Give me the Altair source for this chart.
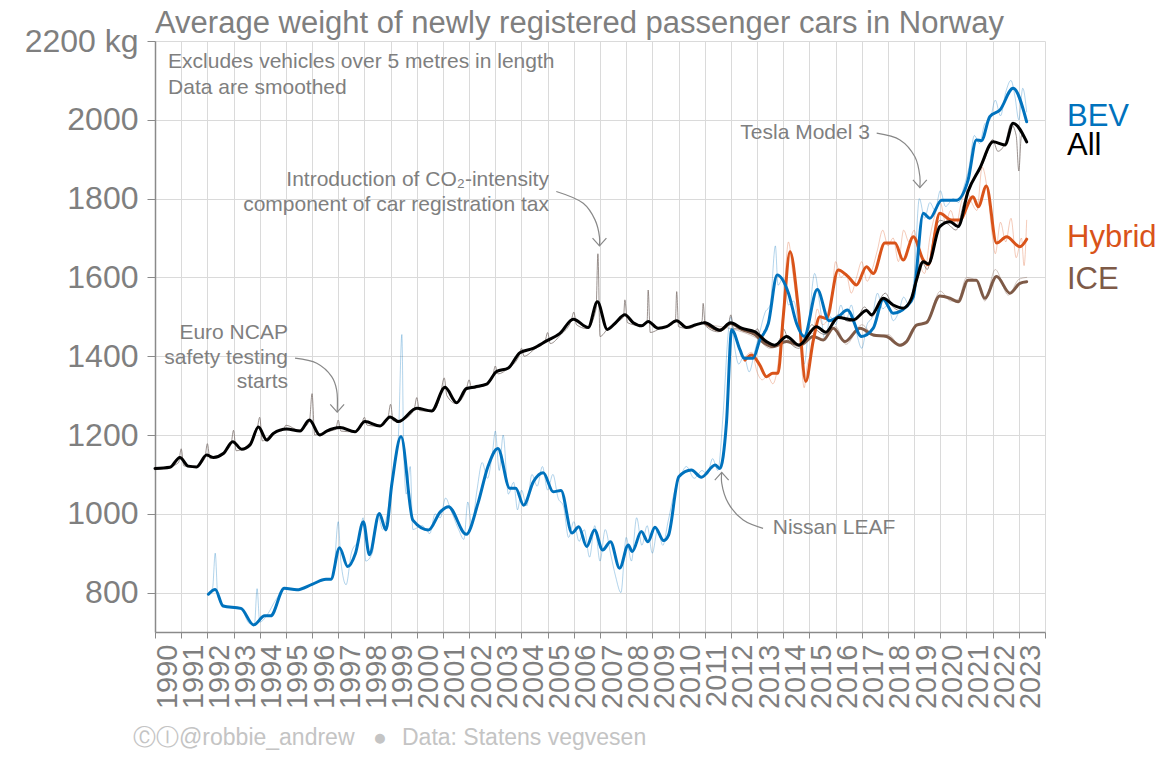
import altair as alt
import pandas as pd

# ---------------- smoothed series (year, kg) ----------------
all_years = [1990.0, 1990.57, 1990.95, 1991.27, 1991.59, 1991.97, 1992.23, 1992.61, 1992.97, 1993.31,
             1993.63, 1993.95, 1994.27, 1994.52, 1995.03, 1995.54, 1995.9, 1996.3, 1996.56, 1997.07,
             1997.64, 1998.02, 1998.6, 1998.98, 1999.3, 2000.0, 2000.57, 2001.08, 2001.52, 2001.9,
             2002.22, 2002.67, 2003.05, 2003.5, 2003.94, 2004.45, 2004.96, 2005.47, 2005.98, 2006.55,
             2006.9, 2007.28, 2007.57, 2007.95, 2008.27, 2008.59, 2008.84, 2009.22, 2009.54, 2009.93,
             2010.31, 2010.63, 2011.0, 2011.58, 2011.99, 2012.41, 2012.92, 2013.36, 2013.68, 2014.13,
             2014.6, 2015.27, 2015.62, 2016.1, 2016.67, 2017.18, 2017.37, 2017.82, 2018.2, 2018.58,
             2018.9, 2019.09, 2019.35, 2019.54, 2019.98, 2020.37, 2020.68, 2021.06, 2021.51, 2022.02,
             2022.47, 2022.78, 2023.3]
all_kg = [1115, 1118, 1143, 1121, 1119, 1149, 1143, 1153, 1183, 1164,
          1175, 1220, 1187, 1204, 1215, 1210, 1238, 1200, 1210, 1219,
          1208, 1234, 1223, 1246, 1234, 1268, 1261, 1321, 1282, 1318,
          1322, 1329, 1361, 1370, 1409, 1420, 1439, 1458, 1494, 1473,
          1538, 1468, 1483, 1505, 1485, 1477, 1488, 1471, 1475, 1490,
          1473, 1479, 1485, 1466, 1485, 1471, 1462, 1437, 1428, 1450,
          1428, 1475, 1461, 1498, 1492, 1516, 1505, 1547, 1530, 1522,
          1547, 1593, 1640, 1634, 1729, 1741, 1729, 1818, 1877, 1944,
          1936, 1991, 1944]

bev_years = [1992.04, 1992.3, 1992.6, 1993.28, 1993.77, 1994.19, 1994.42, 1994.94, 1995.42, 1996.0,
             1996.53, 1996.72, 1997.05, 1997.36, 1997.66, 1997.96, 1998.19, 1998.57, 1998.82, 1999.05,
             1999.4, 1999.85, 2000.45, 2000.9, 2001.21, 2001.89, 2002.34, 2002.72, 2003.1, 2003.55,
             2003.78, 2004.08, 2004.46, 2004.83, 2005.21, 2005.51, 2005.93, 2006.19, 2006.49, 2006.79,
             2007.1, 2007.4, 2007.75, 2008.08, 2008.23, 2008.58, 2008.83, 2009.1, 2009.43, 2009.62,
             2010.01, 2010.49, 2010.87, 2011.4, 2011.58, 2011.83, 2012.03, 2012.35, 2012.5, 2012.85,
             2013.1, 2013.43, 2013.77, 2014.2, 2014.51, 2014.8, 2015.3, 2015.75, 2016.1, 2016.45,
             2016.99, 2017.44, 2017.82, 2018.2, 2018.71, 2018.97, 2019.35, 2019.6, 2020.05, 2020.62,
             2021.06, 2021.38, 2021.57, 2021.89, 2022.28, 2022.78, 2023.3]
bev_kg = [796, 808, 766, 760, 718, 741, 741, 811, 807, 821,
          834, 834, 914, 866, 900, 980, 896, 1001, 959, 1077,
          1196, 984, 959, 1005, 1018, 948, 1027, 1120, 1166, 1065,
          1065, 1022, 1082, 1104, 1056, 1059, 951, 967, 917, 959,
          908, 929, 862, 921, 904, 955, 929, 966, 932, 946,
          1094, 1111, 1093, 1124, 1115, 1230, 1467, 1416, 1395, 1395,
          1440, 1483, 1606, 1560, 1483, 1450, 1569, 1490, 1500, 1517,
          1450, 1471, 1544, 1509, 1526, 1551, 1763, 1750, 1796, 1796,
          1847, 1949, 1947, 2008, 2025, 2080, 1995]

hyb_years = [2012.54, 2012.79, 2013.1, 2013.36, 2013.6, 2013.8, 2014.0, 2014.26, 2014.57, 2014.86,
             2015.15, 2015.4, 2015.65, 2016.1, 2016.48, 2016.8, 2017.18, 2017.44, 2017.88, 2018.27,
             2018.58, 2018.97, 2019.35, 2019.54, 2019.98, 2020.42, 2020.74, 2021.25, 2021.45, 2021.76,
             2022.15, 2022.53, 2023.04, 2023.3]
hyb_kg = [1390, 1403, 1378, 1348, 1357, 1357, 1500, 1665, 1526, 1336,
          1441, 1500, 1496, 1619, 1602, 1581, 1627, 1610, 1687, 1687,
          1644, 1703, 1644, 1632, 1763, 1746, 1746, 1805, 1779, 1832,
          1687, 1703, 1678, 1697]

ice_years = [2011.0, 2011.58, 2011.99, 2012.41, 2012.92, 2013.3, 2013.6, 2014.13, 2014.64, 2015.15,
             2015.53, 2015.91, 2016.36, 2016.93, 2017.44, 2017.95, 2018.46, 2018.71, 2019.09, 2019.47,
             2019.98, 2020.37, 2020.68, 2021.06, 2021.38, 2021.7, 2022.15, 2022.66, 2023.04, 2023.3]
ice_kg = [1485, 1466, 1483, 1468, 1455, 1432, 1424, 1437, 1428, 1450,
          1441, 1471, 1437, 1471, 1454, 1450, 1428, 1437, 1479, 1485,
          1553, 1547, 1538, 1593, 1593, 1547, 1602, 1560, 1585, 1589]

# ---------------- raw (unsmoothed) series, read approximately ----------------
raw_all_years = [1990.0, 1990.5, 1990.9, 1991.0, 1991.1, 1991.5, 1991.9, 1992.0, 1992.1, 1992.5,
                 1992.9, 1993.0, 1993.1, 1993.5, 1993.9, 1994.0, 1994.1, 1994.5, 1994.9, 1995.0,
                 1995.5, 1995.9, 1996.0, 1996.1, 1996.5, 1996.9, 1997.0, 1997.1, 1997.6, 1997.9,
                 1998.0, 1998.1, 1998.6, 1998.9, 1999.0, 1999.1, 1999.5, 1999.9, 2000.0, 2000.1,
                 2000.6, 2000.9, 2001.05, 2001.15, 2001.5, 2001.9, 2002.0, 2002.1, 2002.6, 2002.9,
                 2003.0, 2003.1, 2003.5, 2003.9, 2004.0, 2004.1, 2004.5, 2004.9, 2005.0, 2005.1,
                 2005.5, 2005.9, 2006.0, 2006.1, 2006.5, 2006.85, 2006.92, 2007.0, 2007.3, 2007.6,
                 2007.9, 2007.95, 2008.05, 2008.5, 2008.8, 2008.84, 2008.92, 2009.3, 2009.6, 2009.88,
                 2009.93, 2010.0, 2010.4, 2010.7, 2010.9, 2010.94, 2011.02, 2011.5, 2011.9, 2012.0,
                 2012.1, 2012.5, 2012.9, 2013.0, 2013.2, 2013.6, 2013.9, 2014.0, 2014.2, 2014.6,
                 2014.9, 2015.1, 2015.3, 2015.6, 2015.9, 2016.1, 2016.5, 2016.9, 2017.1, 2017.4,
                 2017.7, 2017.9, 2018.2, 2018.5, 2018.9, 2019.1, 2019.3, 2019.5, 2019.8, 2020.0,
                 2020.3, 2020.6, 2020.9, 2021.1, 2021.4, 2021.7, 2022.0, 2022.2, 2022.5, 2022.7,
                 2022.9, 2023.0, 2023.1, 2023.3]
raw_all_kg = [1112, 1118, 1130, 1165, 1122, 1118, 1140, 1178, 1140, 1150,
              1175, 1212, 1160, 1172, 1215, 1245, 1185, 1205, 1212, 1225,
              1212, 1235, 1305, 1200, 1208, 1214, 1238, 1210, 1208, 1230,
              1245, 1225, 1222, 1245, 1278, 1236, 1240, 1265, 1295, 1262,
              1260, 1300, 1345, 1300, 1280, 1318, 1340, 1318, 1328, 1350,
              1375, 1355, 1370, 1400, 1420, 1400, 1418, 1438, 1460, 1432,
              1455, 1490, 1512, 1480, 1470, 1520, 1660, 1450, 1470, 1485,
              1500, 1543, 1485, 1478, 1488, 1568, 1460, 1470, 1475, 1490,
              1564, 1475, 1470, 1480, 1490, 1534, 1478, 1462, 1480, 1505,
              1470, 1468, 1458, 1470, 1440, 1425, 1448, 1470, 1440, 1420,
              1460, 1480, 1465, 1455, 1490, 1505, 1488, 1505, 1525, 1500,
              1545, 1560, 1525, 1515, 1550, 1610, 1640, 1620, 1720, 1745,
              1735, 1720, 1790, 1830, 1860, 1900, 1950, 1920, 1945, 1990,
              1960, 1870, 1960, 1950]

raw_bev_years = [1992.0, 1992.2, 1992.3, 1992.4, 1992.6, 1993.0, 1993.3, 1993.6, 1993.8, 1993.9,
                 1994.0, 1994.3, 1994.6, 1995.0, 1995.5, 1996.0, 1996.5, 1996.8, 1997.0, 1997.1,
                 1997.3, 1997.5, 1997.8, 1997.95, 1998.05, 1998.3, 1998.5, 1998.7, 1998.9, 1999.1,
                 1999.3, 1999.43, 1999.5, 1999.6, 1999.75, 1999.85, 2000.2, 2000.5, 2000.7, 2000.9,
                 2001.1, 2001.3, 2001.6, 2001.8, 2001.95, 2002.1, 2002.3, 2002.5, 2002.7, 2002.9,
                 2003.0, 2003.15, 2003.3, 2003.5, 2003.7, 2003.85, 2004.0, 2004.2, 2004.4, 2004.6,
                 2004.8, 2005.0, 2005.2, 2005.4, 2005.6, 2005.8, 2006.0, 2006.2, 2006.4, 2006.6,
                 2006.8, 2007.0, 2007.2, 2007.4, 2007.6, 2007.8, 2008.0, 2008.2, 2008.4, 2008.6,
                 2008.8, 2009.0, 2009.2, 2009.4, 2009.6, 2009.9, 2010.1, 2010.3, 2010.6, 2010.9,
                 2011.1, 2011.3, 2011.5, 2011.7, 2011.9, 2012.0, 2012.15, 2012.3, 2012.5, 2012.7,
                 2012.9, 2013.1, 2013.3, 2013.5, 2013.7, 2013.8, 2014.0, 2014.2, 2014.4, 2014.6,
                 2014.8, 2015.0, 2015.2, 2015.4, 2015.6, 2015.8, 2016.0, 2016.2, 2016.4, 2016.6,
                 2016.8, 2017.0, 2017.2, 2017.4, 2017.6, 2017.8, 2018.0, 2018.2, 2018.4, 2018.6,
                 2018.8, 2019.0, 2019.2, 2019.4, 2019.6, 2019.8, 2020.0, 2020.2, 2020.5, 2020.7,
                 2020.9, 2021.1, 2021.3, 2021.5, 2021.7, 2021.9, 2022.1, 2022.3, 2022.5, 2022.7,
                 2022.85, 2023.0, 2023.15, 2023.3]
raw_bev_kg = [795, 812, 900, 790, 770, 760, 758, 722, 720, 810,
              725, 745, 780, 810, 808, 820, 832, 835, 980, 880,
              820, 900, 940, 990, 880, 900, 1000, 960, 1010, 1100,
              1200, 1455, 1160, 1050, 1120, 960, 970, 950, 1000, 990,
              1040, 1010, 960, 935, 1030, 970, 1060, 1130, 1090, 1160,
              1210, 1110, 1200, 1050, 1080, 1010, 1060, 1020, 1100, 1070,
              1120, 1060, 1100, 1040, 1020, 940, 980, 930, 960, 890,
              970, 880, 960, 900, 840, 800, 940, 880, 990, 920,
              970, 900, 960, 920, 980, 1070, 1100, 1120, 1090, 1110,
              1100, 1140, 1110, 1250, 1460, 1500, 1420, 1380, 1400, 1360,
              1410, 1460, 1510, 1530, 1680, 1580, 1600, 1530, 1540, 1470,
              1380, 1500, 1610, 1530, 1440, 1500, 1480, 1530, 1490, 1530,
              1460, 1420, 1480, 1500, 1560, 1520, 1530, 1490, 1510, 1550,
              1530, 1600, 1800, 1750, 1790, 1770, 1820, 1780, 1800, 1790,
              1830, 1880, 1960, 1940, 1990, 2000, 2050, 2010, 2070, 2100,
              2060, 2000, 2080, 2020]

raw_hyb_years = [2012.5, 2012.8, 2013.0, 2013.2, 2013.4, 2013.6, 2013.8, 2014.0, 2014.2, 2014.35,
                 2014.6, 2014.8, 2014.9, 2015.1, 2015.3, 2015.5, 2015.8, 2016.0, 2016.2, 2016.4,
                 2016.6, 2016.8, 2017.0, 2017.2, 2017.4, 2017.6, 2017.8, 2018.0, 2018.2, 2018.4,
                 2018.6, 2018.8, 2019.0, 2019.2, 2019.4, 2019.6, 2019.8, 2020.0, 2020.2, 2020.4,
                 2020.6, 2020.8, 2021.0, 2021.2, 2021.4, 2021.6, 2021.8, 2022.0, 2022.1, 2022.3,
                 2022.5, 2022.7, 2022.9, 2023.1, 2023.2, 2023.3]
raw_hyb_kg = [1395, 1410, 1360, 1340, 1350, 1330, 1380, 1520, 1690, 1620,
              1480, 1320, 1370, 1420, 1520, 1480, 1510, 1640, 1600, 1610,
              1560, 1600, 1640, 1590, 1620, 1670, 1720, 1680, 1700, 1640,
              1720, 1690, 1720, 1640, 1610, 1700, 1760, 1790, 1740, 1770,
              1730, 1790, 1820, 1790, 1770, 1880, 1820, 1700, 1660, 1740,
              1690, 1750, 1650, 1700, 1630, 1745]

raw_ice_years = [2011.0, 2012.0, 2012.5, 2013.0, 2013.5, 2014.0, 2014.5, 2015.0, 2015.5, 2016.0,
                 2016.4, 2017.0, 2017.5, 2018.0, 2018.5, 2019.0, 2019.5, 2020.0, 2020.4, 2020.7,
                 2021.0, 2021.4, 2021.7, 2022.1, 2022.6, 2023.0, 2023.3]
raw_ice_kg = [1480, 1470, 1460, 1445, 1420, 1440, 1425, 1460, 1440, 1475,
              1430, 1480, 1450, 1455, 1425, 1475, 1490, 1565, 1540, 1545,
              1600, 1590, 1540, 1620, 1555, 1595, 1600]

# ---------------- texts ----------------
title_text = "Average weight of newly registered passenger cars in Norway"
series_names = ["BEV", "All", "Hybrid", "ICE"]
series_label_kg = [2007, 1934, 1700, 1593]
year_ticks = list(range(1990, 2025))
kg_ticks = [800, 1000, 1200, 1400, 1600, 1800, 2000, 2200]

note_lines = ["Excludes vehicles over 5 metres in length", "Data are smoothed"]
co2_lines = ["Introduction of CO\u2082-intensity", "component of car registration tax"]
ncap_lines = ["Euro NCAP", "safety testing", "starts"]
tesla_text = "Tesla Model 3"
leaf_text = "Nissan LEAF"
footer_handle = "\u24b8\u24be@robbie_andrew"
footer_dot = "\u25cf"
footer_source = "Data: Statens vegvesen"

# arrow paths (year, kg) along the curves
co2_arrow_years = [2005.33, 2006.36, 2006.81, 2006.98, 2006.98]
co2_arrow_kg = [1818, 1788, 1746, 1703, 1680]
ncap_arrow_years = [1995.35, 1996.18, 1996.75, 1996.94, 1996.96]
ncap_arrow_kg = [1395, 1382, 1348, 1314, 1258]
tesla_arrow_years = [2017.57, 2018.46, 2019.03, 2019.22, 2019.22]
tesla_arrow_kg = [1966, 1949, 1906, 1856, 1828]
leaf_arrow_years = [2013.23, 2012.47, 2011.9, 2011.65, 2011.65]
leaf_arrow_kg = [963, 984, 1027, 1078, 1105]

# ---------------- styling ----------------
GREY = "#7f7f7f"
BLUE = "#0072BD"
ORANGE = "#D95319"
BROWN = "#7E5A47"
FONT = "Liberation Sans"

xscale = alt.Scale(domain=[1990, 2024], nice=False, zero=False)
yscale = alt.Scale(domain=[700, 2200], nice=False, zero=False)

xaxis = alt.Axis(values=year_ticks, format="d",
                 labelExpr="datum.value == 2024 ? '' : datum.label",
                 labelAngle=270, labelAlign="right", labelBaseline="middle",
                 labelOffset=12, labelFontSize=29, labelPadding=6, tickSize=6,
                 labelOverlap=False, labelFlush=False, labelBound=False,
                 grid=True, title=None)
yaxis = alt.Axis(values=kg_ticks, format="d",
                 labelExpr="datum.value == 2200 ? '2200 kg' : datum.label",
                 labelFontSize=32, labelPadding=9, tickSize=8,
                 labelOverlap=False, grid=True, title=None)

X = alt.X("year:Q", scale=xscale, axis=xaxis)
Y = alt.Y("kg:Q", scale=yscale, axis=yaxis)


def df(years, vals):
    return pd.DataFrame({"year": years, "kg": vals})


def line(years, vals, color, width, opacity=1.0):
    return alt.Chart(df(years, vals)).mark_line(
        color=color, strokeWidth=width, opacity=opacity, interpolate="monotone",
        strokeJoin="round", strokeCap="round").encode(x=X, y=Y)


layers = [
    line(raw_ice_years, raw_ice_kg, BROWN, 1, 0.35),
    line(raw_hyb_years, raw_hyb_kg, ORANGE, 1, 0.3),
    line(raw_bev_years, raw_bev_kg, BLUE, 1, 0.3),
    line(raw_all_years, raw_all_kg, "#7a6e6a", 1, 0.75),
    line(ice_years, ice_kg, BROWN, 3),
    line(hyb_years, hyb_kg, ORANGE, 3),
    line(bev_years, bev_kg, BLUE, 3),
    line(all_years, all_kg, "#000000", 3),
]

# arrows
for ys, ks, up in [(co2_arrow_years, co2_arrow_kg, False),
                   (ncap_arrow_years, ncap_arrow_kg, False),
                   (tesla_arrow_years, tesla_arrow_kg, False),
                   (leaf_arrow_years, leaf_arrow_kg, True)]:
    d = df(ys, ks)
    d["o"] = range(len(d))
    layers.append(alt.Chart(d).mark_line(color="#888888", strokeWidth=1.2,
                                         interpolate="catmull-rom").encode(
        x=X, y=Y, order="o:Q"))
    tip = df([ys[-1]], [ks[-1]])
    shape = "M-0.8,0.9L0,0L0.8,0.9" if up else "M-0.8,-0.9L0,0L0.8,-0.9"
    layers.append(alt.Chart(tip).mark_point(shape=shape, filled=False, size=300,
                                            strokeWidth=1.2, color="#888888", opacity=1).encode(x=X, y=Y))


def texts(years, kgs, labels, align, size=21, color=GREY):
    d = pd.DataFrame({"year": years, "kg": kgs, "t": labels})
    return alt.Chart(d).mark_text(align=align, baseline="middle", fontSize=size,
                                  color=color, font=FONT).encode(x=X, y=Y, text="t:N")


layers += [
    texts([1990.5, 1990.5], [2147, 2081], note_lines, "left"),
    texts([2005.05, 2005.05], [1847, 1784], co2_lines, "right"),
    texts([1995.08] * 3, [1459, 1395, 1335], ncap_lines, "right"),
    texts([2017.31], [1966], [tesla_text], "right"),
    texts([2013.6], [964], [leaf_text], "left"),
]

# series labels at the right of the plot
lab = pd.DataFrame({"kg": series_label_kg, "t": series_names,
                    "c": [BLUE, "#000000", ORANGE, BROWN]})
layers.append(alt.Chart(lab).mark_text(align="left", baseline="middle", fontSize=31, font=FONT).encode(
    x=alt.value(912), y=Y, text="t:N",
    color=alt.Color("c:N", scale=None)))

# title (as text, placed just above the plot area)
layers.append(alt.Chart(pd.DataFrame({"t": [title_text]})).mark_text(
    align="left", baseline="alphabetic", fontSize=31, color=GREY, font=FONT).encode(
    x=alt.value(0), y=alt.value(-8), text="t:N"))

# footer
foot = pd.DataFrame({"t": [footer_handle, footer_dot, footer_source], "px": [-22, 218, 247]})
layers.append(alt.Chart(foot).mark_text(align="left", baseline="alphabetic", fontSize=23,
                                        color="#c4c4c4", font=FONT).encode(
    x=alt.X("px:Q", scale=None), y=alt.value(704), text="t:N"))

chart = alt.layer(*layers).properties(
    width=890, height=591,
    autosize=alt.AutoSizeParams(type="none"),
    padding={"left": 147, "top": 33, "right": 117, "bottom": 120},
).configure_view(stroke=None).configure_axis(
    domainColor="#8a8a8a", tickColor="#8a8a8a", labelColor=GREY, gridColor="#dadada",
    labelFont=FONT, domainWidth=1.5, gridWidth=1,
)

chart.save("out.html", embed_options={"renderer": "svg", "actions": False})
